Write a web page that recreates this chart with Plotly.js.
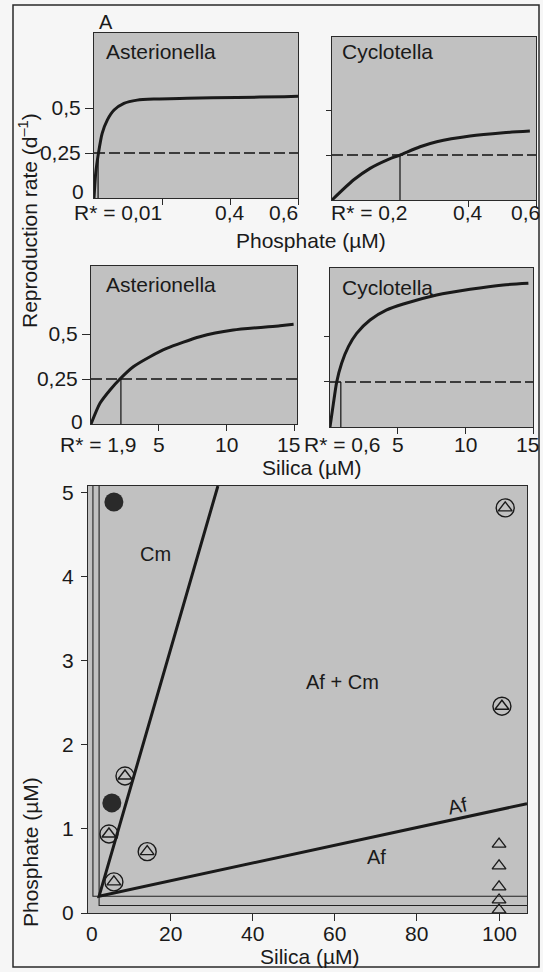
<!DOCTYPE html>
<html><head><meta charset="utf-8">
<script src="https://cdn.plot.ly/plotly-3.0.1.min.js"></script>
<style>html,body{margin:0;padding:0;background:#f5f5f5}</style>
</head><body><div id="chart" style="width:543px;height:972px"></div>
<script>
// ---------- DATA ----------
// Growth curves: reproduction rate (d^-1) vs resource (µM)
const astPhosX = [0, 0.005, 0.013, 0.024, 0.039, 0.059, 0.088, 0.127, 0.176, 0.274, 0.42, 0.56, 0.6];
const astPhosY = [0, 0.137, 0.248, 0.359, 0.433, 0.489, 0.526, 0.544, 0.55, 0.554, 0.559, 0.563, 0.565];
const cycPhosX = [0, 0.063, 0.112, 0.161, 0.2, 0.259, 0.308, 0.406, 0.504, 0.582];
const cycPhosY = [0, 0.111, 0.176, 0.222, 0.25, 0.296, 0.324, 0.356, 0.374, 0.383];
const astSiX = [0, 0.66, 1.4, 2.13, 3.11, 4.34, 5.56, 8.0, 10.46, 13.9, 14.9];
const astSiY = [0, 0.115, 0.189, 0.25, 0.318, 0.374, 0.42, 0.485, 0.522, 0.546, 0.554];
const cycSiX = [0, 0.25, 0.49, 0.86, 1.36, 1.97, 2.96, 4.19, 5.42, 7.88, 10.35, 12.81, 14.66];
const cycSiY = [0, 0.13, 0.248, 0.354, 0.446, 0.52, 0.594, 0.65, 0.683, 0.733, 0.765, 0.789, 0.798];

const threshold = 0.25;               // mortality / dashed line
const rStarPhos = [0.012, 0.2];       // Asterionella, Cyclotella (drawn positions)
const rStarSi = [2.2, 0.8];           // Asterionella, Cyclotella (drawn positions)
const rStarLabelsP = ['R* = 0,01', 'R* = 0,2'];
const rStarLabelsSi = ['R* = 1,9', 'R* = 0,6'];

// Bottom panel: Silica vs Phosphate
const zngiCyc = {si: 1.2, p: 0.2};
const zngiAst = {si: 2.7, p: 0.09};
const vecX = [31.6, 2.7, 106.8];
const vecY = [5.08, 0.2, 1.30];
const filledX = [6.3, 5.8];
const filledY = [4.89, 1.31];
const bothX = [101.5, 100.7, 9.0, 5.1, 14.4, 6.3];
const bothY = [4.82, 2.46, 1.63, 0.94, 0.73, 0.37];
const triX = [100, 100, 100, 100, 100];
const triY = [0.82, 0.56, 0.31, 0.155, 0.036];

const phosTicks = [0.2, 0.4, 0.6];
const siTicks = [5, 10, 15];
const rateTicks = [0.25, 0.5];
const rateTickText = ['0,25', '0,5'];
const bottomXTicks = [0, 20, 40, 60, 80, 100];
const bottomYTicks = [0, 1, 2, 3, 4, 5];

// ---------- LAYOUT HELPERS ----------
const W = 543, H = 972;
const FONT = 'Liberation Sans, Arial, Helvetica, sans-serif';
const INK = '#1a1a1a';
const xd = (a, b) => [a / W, b / W];
const yd = (top, bottom) => [1 - bottom / H, 1 - top / H];

function ax(extra) {
  return Object.assign({
    showline: true, mirror: true, linecolor: '#2a2a2a', linewidth: 1,
    showgrid: false, zeroline: false, ticks: 'outside', ticklen: 6,
    tickcolor: '#2a2a2a', tickwidth: 1, fixedrange: true,
    tickfont: {family: FONT, size: 21, color: INK}
  }, extra);
}
function pann(text, px, py, o) {
  return Object.assign({text, x: px / W, y: 1 - py / H, xref: 'paper', yref: 'paper',
    showarrow: false, xanchor: 'center', yanchor: 'middle',
    font: {family: FONT, size: 21, color: INK}}, o || {});
}
function xlab(text, xv, xr, py) {
  return {text, x: xv, xref: xr, y: 1 - py / H, yref: 'paper', showarrow: false,
    xanchor: 'center', yanchor: 'middle', font: {family: FONT, size: 21, color: INK}};
}

const traces = [];
function curve(x, y, xa, ya) {
  traces.push({x, y, xaxis: xa, yaxis: ya, mode: 'lines', type: 'scatter',
    line: {color: INK, width: 3, shape: 'spline', smoothing: 0.6}, hoverinfo: 'skip'});
}
function dashed(xmax, xa, ya) {
  traces.push({x: [0, xmax], y: [threshold, threshold], xaxis: xa, yaxis: ya, mode: 'lines',
    line: {color: '#111', width: 1.4, dash: '11px,4px'}, hoverinfo: 'skip'});
}
function rline(r, xa, ya) {
  traces.push({x: [r, r], y: [0, threshold], xaxis: xa, yaxis: ya, mode: 'lines',
    line: {color: '#111', width: 1.2}, hoverinfo: 'skip'});
}

dashed(0.6, 'x', 'y');  rline(rStarPhos[0], 'x', 'y');  curve(astPhosX, astPhosY, 'x', 'y');
dashed(0.6, 'x2', 'y2'); rline(rStarPhos[1], 'x2', 'y2'); curve(cycPhosX, cycPhosY, 'x2', 'y2');
dashed(15.15, 'x3', 'y3'); rline(rStarSi[0], 'x3', 'y3'); curve(astSiX, astSiY, 'x3', 'y3');
dashed(15, 'x4', 'y4'); rline(rStarSi[1], 'x4', 'y4'); curve(cycSiX, cycSiY, 'x4', 'y4');

// Bottom panel ZNGIs (thin L-shapes)
const XMAX = 106.8, YMAX = 5.08;
traces.push({x: [zngiCyc.si, zngiCyc.si, XMAX], y: [YMAX, zngiCyc.p, zngiCyc.p], xaxis: 'x5', yaxis: 'y5',
  mode: 'lines', line: {color: '#222', width: 1.1}, hoverinfo: 'skip'});
traces.push({x: [zngiAst.si, zngiAst.si, XMAX], y: [YMAX, zngiAst.p, zngiAst.p], xaxis: 'x5', yaxis: 'y5',
  mode: 'lines', line: {color: '#222', width: 1.1}, hoverinfo: 'skip'});
// Thick boundary lines
traces.push({x: vecX, y: vecY, xaxis: 'x5', yaxis: 'y5', mode: 'lines',
  line: {color: INK, width: 3}, hoverinfo: 'skip'});
// Markers
traces.push({x: filledX, y: filledY, xaxis: 'x5', yaxis: 'y5', mode: 'markers',
  marker: {symbol: 'circle', size: 19, color: '#2a2a2a'}, hoverinfo: 'skip'});
traces.push({x: bothX, y: bothY, xaxis: 'x5', yaxis: 'y5', mode: 'markers',
  marker: {symbol: 'circle-open', size: 18, color: INK, line: {width: 1.4, color: INK}}, hoverinfo: 'skip'});
traces.push({x: bothX, y: bothY, xaxis: 'x5', yaxis: 'y5', mode: 'markers',
  marker: {symbol: 'triangle-up-open', size: 12, color: INK, line: {width: 1.4, color: INK}}, hoverinfo: 'skip'});
traces.push({x: triX, y: triY, xaxis: 'x5', yaxis: 'y5', mode: 'markers',
  marker: {symbol: 'triangle-up-open', size: 12, color: INK, line: {width: 1.3, color: INK}}, hoverinfo: 'skip'});

const annotations = [
  pann('A', 106, 22, {font: {family: FONT, size: 20, color: INK}}),
  pann('Asterionella', 104, 51, {xanchor: 'left'}),
  pann('Cyclotella', 340, 52, {xanchor: 'left'}),
  pann('Asterionella', 104, 285, {xanchor: 'left'}),
  pann('Cyclotella', 340, 287, {xanchor: 'left'}),
  pann('Reproduction rate (d<sup>–1</sup>)', 28, 221, {textangle: -90}),
  pann('Phosphate (µM)', 311, 240),
  pann('Silica (µM)', 312, 468),
  pann('Silica (µM)', 310, 956),
  pann('Phosphate (µM)', 30, 852, {textangle: -90}),
  // "0" y labels of the left rate panels (raised as in the original)
  pann('0', 78, 191), pann('0', 77, 421),
  // x tick labels of the upper panels
  xlab(rStarLabelsP[0], 0.071, 'x', 213), xlab('0,4', 0.4, 'x', 213), xlab('0,6', 0.556, 'x', 213),
  xlab(rStarLabelsP[1], 0.11, 'x2', 213), xlab('0,4', 0.4, 'x2', 213), xlab('0,6', 0.568, 'x2', 213),
  xlab(rStarLabelsSi[0], 0.55, 'x3', 444), xlab('5', 5, 'x3', 444), xlab('10', 10, 'x3', 444), xlab('15', 14.56, 'x3', 444),
  xlab(rStarLabelsSi[1], 0.92, 'x4', 444), xlab('5', 5, 'x4', 444), xlab('10', 10, 'x4', 444), xlab('15', 14.6, 'x4', 444),
  // bottom panel region labels
  {text: 'Cm', x: 16.3, y: 4.27, xref: 'x5', yref: 'y5', showarrow: false, font: {family: FONT, size: 20, color: INK}},
  {text: 'Af + Cm', x: 62, y: 2.75, xref: 'x5', yref: 'y5', showarrow: false, font: {family: FONT, size: 20, color: INK}},
  {text: 'Af', x: 89.8, y: 1.27, xref: 'x5', yref: 'y5', showarrow: false, textangle: -12, font: {family: FONT, size: 20, color: INK}},
  {text: 'Af', x: 70.3, y: 0.67, xref: 'x5', yref: 'y5', showarrow: false, font: {family: FONT, size: 20, color: INK}}
];
// bottom x tick labels
bottomXTicks.forEach(v => annotations.push(xlab(String(v), v + (v === 0 ? 1 : 0), 'x5', 933)));

const layout = {
  width: W, height: H,
  margin: {l: 0, r: 0, t: 0, b: 0, pad: 0},
  paper_bgcolor: '#f6f6f6', plot_bgcolor: '#c1c1c1',
  showlegend: false,
  font: {family: FONT, size: 21, color: INK},
  xaxis: ax({domain: xd(94, 298), range: [0, 0.6], anchor: 'y', tickvals: phosTicks, showticklabels: false}),
  yaxis: ax({domain: yd(33, 198), range: [0, 0.917], anchor: 'x', tickvals: rateTicks, ticktext: rateTickText, ticklen: 8}),
  xaxis2: ax({domain: xd(332, 536), range: [0, 0.6], anchor: 'y2', tickvals: [0.4, 0.6], showticklabels: false}),
  yaxis2: ax({domain: yd(37, 200), range: [0, 0.906], anchor: 'x2', tickvals: [0.25, 0.5], showticklabels: false, ticklen: 5}),
  xaxis3: ax({domain: xd(91, 297), range: [0, 15.15], anchor: 'y3', tickvals: siTicks, showticklabels: false}),
  yaxis3: ax({domain: yd(266, 424), range: [0, 0.878], anchor: 'x3', tickvals: rateTicks, ticktext: rateTickText, ticklen: 8}),
  xaxis4: ax({domain: xd(330, 533), range: [0, 15], anchor: 'y4', tickvals: siTicks, showticklabels: false}),
  yaxis4: ax({domain: yd(268, 427), range: [0, 0.883], anchor: 'x4', tickvals: [0.25, 0.5], showticklabels: false, ticklen: 5}),
  xaxis5: ax({domain: xd(88, 527), range: [0, XMAX], anchor: 'y5', tickvals: bottomXTicks.slice(1), showticklabels: false, ticklen: 7}),
  yaxis5: ax({domain: yd(486, 913), range: [0, YMAX], anchor: 'x5', tickvals: bottomYTicks, ticktext: bottomYTicks.map(String), ticklen: 6, ticklabelstandoff: 3}),
  annotations,
  shapes: [{type: 'rect', xref: 'paper', yref: 'paper', x0: 13 / W, x1: 539 / W, y0: 1 - 967 / H, y1: 1 - 5 / H,
    line: {color: '#2a2a2a', width: 1.5}, fillcolor: 'rgba(0,0,0,0)', layer: 'below'}]
};

Plotly.newPlot('chart', traces, layout, {staticPlot: true, displayModeBar: false});
</script>
</body></html>
